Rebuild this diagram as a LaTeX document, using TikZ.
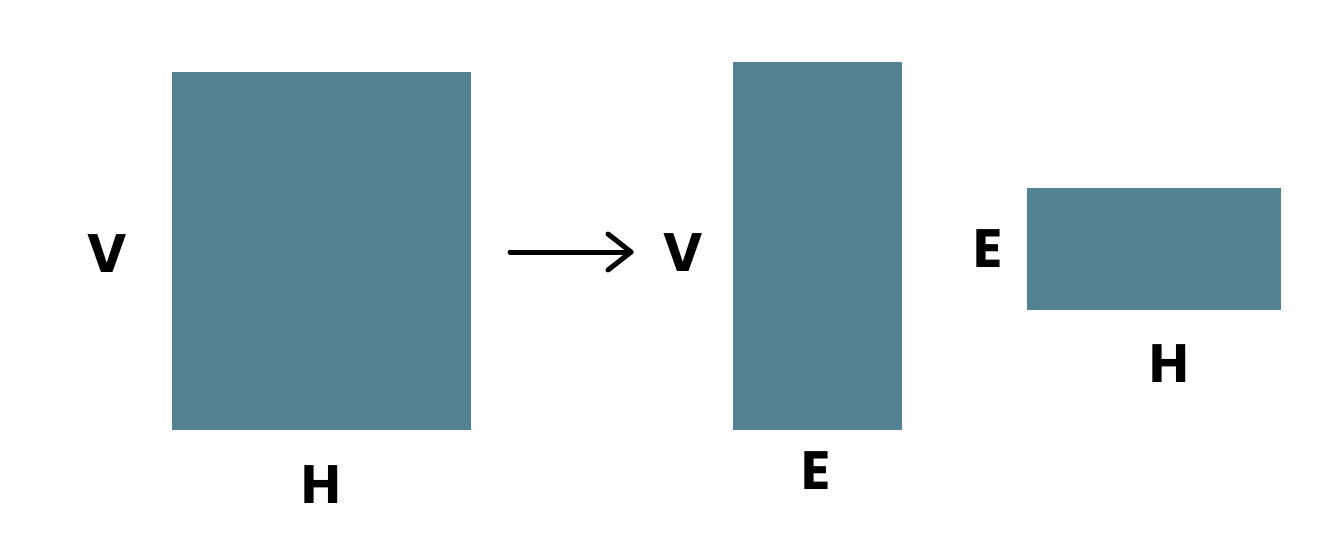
\documentclass[tikz,border=0pt]{standalone}
\usepackage{fontspec}
\setmainfont{Poppins}[UprightFont=* Bold]
\definecolor{boxcol}{RGB}{83,131,147}
\begin{document}
\begin{tikzpicture}[x=1pt,y=-1pt,
  blockbox/.style={fill=boxcol,draw=none,inner sep=0pt,outer sep=0pt,anchor=north west},
  lbl/.style={inner sep=0pt,font=\fontsize{54}{54}\selectfont,text=black},
  arrowline/.style={line width=5pt,line cap=round,line join=round,draw=black}]
\useasboundingbox[fill=white] (0,0) rectangle (1340,552);
\node[blockbox,minimum width=299pt,minimum height=358pt] (A) at (172,72) {};
\node[blockbox,minimum width=169pt,minimum height=368pt] (B) at (733,62) {};
\node[blockbox,minimum width=254pt,minimum height=122pt] (C) at (1027,188) {};
\node[lbl] (vA) at (107.5,254) {V};
\node[lbl] (hA) at (321,485) {H};
\node[lbl] (vB) at (683.5,253) {V};
\node[lbl] (eB) at (816.5,470.5) {E};
\node[lbl] (eC) at (988,249) {E};
\node[lbl] (hC) at (1169.5,364) {H};
\coordinate (s) at (510,252);
\coordinate (t) at (631,252);
\draw[arrowline] (s) -- (t);
\draw[arrowline] ([shift={(-23,-18)}]t) -- (t) -- ([shift={(-23,18)}]t);
\end{tikzpicture}
\end{document}
